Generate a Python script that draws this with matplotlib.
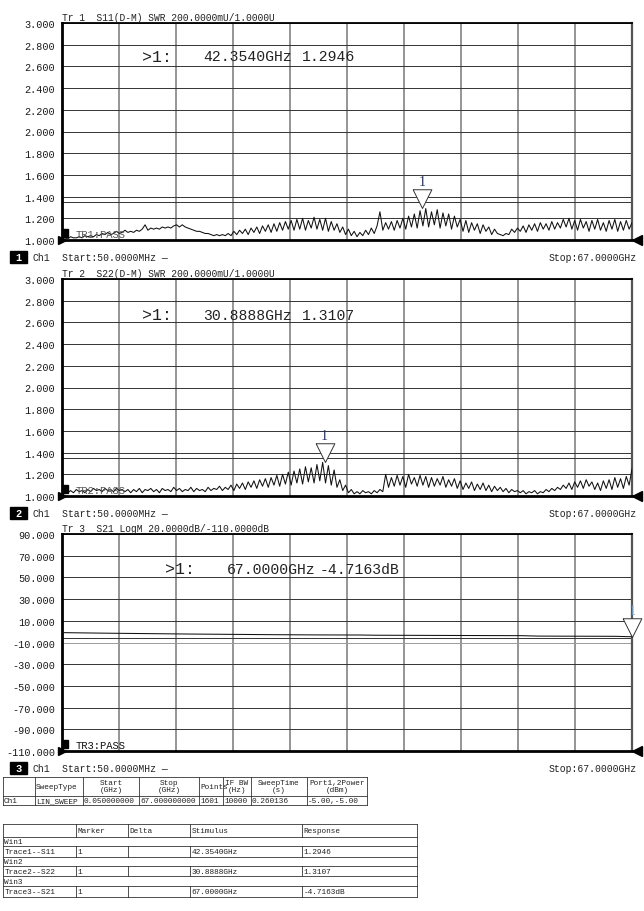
import matplotlib
matplotlib.use('Agg')
import matplotlib.pyplot as plt
import numpy as np
from matplotlib.path import Path

W, H = 644, 912
MONO = 'Liberation Mono'

# sweep settings
start_ghz, stop_ghz = 0.05, 67.0

s11 = [1.01, 1.02, 1.01, 1.03, 1.02, 1.02, 1.03, 1.02, 1.04, 1.03, 1.04, 1.03, 1.05,
       1.04, 1.06, 1.05, 1.07, 1.05, 1.06, 1.08, 1.06, 1.07, 1.09, 1.07, 1.08, 1.07, 1.09, 1.08, 1.10,
       1.14,
       1.09, 1.11, 1.10, 1.11, 1.10, 1.12, 1.11, 1.12, 1.11,
       1.13, 1.14, 1.12, 1.14, 1.12, 1.11,
       1.10, 1.09, 1.08, 1.08, 1.07, 1.06, 1.06,
       1.05, 1.04, 1.05, 1.04, 1.05, 1.04, 1.06,
       1.04, 1.08, 1.05, 1.09, 1.06, 1.10, 1.05, 1.11, 1.07, 1.12, 1.06, 1.13, 1.08, 1.14, 1.07,
       1.15, 1.08, 1.16, 1.09, 1.17, 1.10,
       1.18, 1.09, 1.19, 1.10, 1.20, 1.09, 1.18, 1.11, 1.21, 1.10, 1.19, 1.09, 1.20, 1.08, 1.17,
       1.09, 1.15,
       1.07, 1.12, 1.05, 1.10, 1.04, 1.08, 1.03, 1.07, 1.04, 1.09, 1.05,
       1.11, 1.06, 1.13, 1.26,
       1.09, 1.16, 1.10, 1.17, 1.09, 1.18, 1.11,
       1.20, 1.10, 1.22, 1.12, 1.24, 1.11, 1.27, 1.13, 1.29, 1.12, 1.26, 1.14, 1.28, 1.11, 1.25,
       1.13, 1.24, 1.10, 1.22, 1.12,
       1.19, 1.08, 1.18, 1.07, 1.16, 1.09, 1.15, 1.06, 1.14, 1.08, 1.12, 1.05, 1.10, 1.06,
       1.05, 1.04, 1.06,
       1.05, 1.10, 1.07, 1.11, 1.08, 1.13, 1.07, 1.14, 1.09, 1.15, 1.08, 1.16, 1.10, 1.15, 1.09,
       1.17, 1.10, 1.16,
       1.11, 1.19, 1.12, 1.20, 1.10,
       1.18, 1.09, 1.19, 1.11, 1.17, 1.08, 1.18, 1.10, 1.19, 1.09, 1.16, 1.08, 1.18, 1.10, 1.19,
       1.08, 1.17, 1.09, 1.18, 1.10, 1.16]

s22 = [1.02, 1.04, 1.03, 1.05, 1.03, 1.06, 1.04, 1.05, 1.03, 1.06, 1.04, 1.07, 1.05, 1.06,
       1.04, 1.07, 1.05, 1.06, 1.04, 1.07, 1.05, 1.06, 1.04, 1.06,
       1.03, 1.06, 1.04, 1.07, 1.03, 1.06, 1.05, 1.07, 1.04, 1.06, 1.03, 1.07, 1.05, 1.06, 1.04,
       1.08, 1.05, 1.07, 1.04, 1.06, 1.05, 1.08, 1.04, 1.07, 1.05, 1.06, 1.04, 1.08, 1.05, 1.07,
       1.06, 1.09, 1.05, 1.08,
       1.06, 1.10, 1.05, 1.11, 1.07, 1.12, 1.06, 1.13, 1.08, 1.14, 1.07, 1.15, 1.09, 1.16, 1.08,
       1.17, 1.10, 1.19, 1.09, 1.20, 1.11, 1.22,
       1.10, 1.23, 1.12, 1.25, 1.11, 1.27, 1.13, 1.26, 1.12, 1.29, 1.14, 1.31, 1.12, 1.28, 1.10,
       1.24, 1.08,
       1.15, 1.05, 1.10, 1.03, 1.06, 1.02,
       1.04, 1.02, 1.05, 1.03, 1.04, 1.02, 1.05, 1.03, 1.06, 1.04,
       1.20, 1.08,
       1.17, 1.09, 1.19, 1.10, 1.18, 1.08, 1.20, 1.11, 1.17, 1.09, 1.19, 1.10, 1.18, 1.08, 1.17,
       1.09, 1.16, 1.10, 1.18, 1.08, 1.15, 1.09, 1.16, 1.07,
       1.14, 1.06, 1.12, 1.07, 1.13, 1.05, 1.11, 1.06, 1.12, 1.05, 1.10, 1.04, 1.09, 1.05, 1.08,
       1.04, 1.07, 1.03, 1.06, 1.04, 1.05,
       1.03, 1.05, 1.02, 1.04, 1.03, 1.05, 1.02, 1.04, 1.03, 1.06, 1.04, 1.07, 1.05, 1.08,
       1.06, 1.10, 1.07, 1.12, 1.06, 1.13, 1.08, 1.14, 1.07, 1.15, 1.09, 1.13, 1.06,
       1.12, 1.05, 1.14, 1.07, 1.15, 1.06, 1.17, 1.08, 1.16, 1.07, 1.18, 1.10, 1.25]

s21_freq = [0.05, 5, 10, 15, 20, 25, 30, 35, 37, 45, 54, 56, 65, 67]
s21 = [-0.9, -1.4, -1.8, -2.2, -2.5, -2.8, -3.0, -3.1, -3.3, -3.5, -3.7, -4.1, -4.3, -4.7]

titles = ['Tr 1  S11(D-M) SWR 200.0000mU/1.0000U',
          'Tr 2  S22(D-M) SWR 200.0000mU/1.0000U',
          'Tr 3  S21 LogM 20.0000dB/-110.0000dB']
y_ranges = [(1.0, 3.0), (1.0, 3.0), (-110.0, 90.0)]
limit_vals = [[1.35], [1.35], [-5.5]]
pass_labels = ['TR1:PASS', 'TR2:PASS', 'TR3:PASS']
mk_freq = [42.3540, 30.8888, 67.0000]
mk_resp = [1.2946, 1.3107, -4.7163]
mk_freq_txt = ['42.3540GHz', '30.8888GHz', '67.0000GHz']
mk_resp_txt = ['1.2946', '1.3107', '-4.7163dB']

t1_cols = ['', 'SweepType', 'Start\n(GHz)', 'Stop\n(GHz)', 'Points', 'IF BW\n(Hz)',
           'SweepTime\n(s)', 'Port1,2Power\n(dBm)']
t1_row = ['Ch1', 'LIN_SWEEP', '0.050000000', '67.000000000', '1601', '10000', '0.260136',
          '-5.00,-5.00']
t2_cols = ['', 'Marker', 'Delta', 'Stimulus', 'Response']
t2_rows = [['Win1'],
           ['Trace1--S11', '1', '', '42.3540GHz', '1.2946'],
           ['Win2'],
           ['Trace2--S22', '1', '', '30.8888GHz', '1.3107'],
           ['Win3'],
           ['Trace3--S21', '1', '', '67.0000GHz', '-4.7163dB']]


def box(x0, y0, x1, y1):
    return [x0 / W, 1 - y1 / H, (x1 - x0) / W, (y1 - y0) / H]


fig = plt.figure(figsize=(W / 100, H / 100), dpi=100, facecolor='white')

# overlay in pixel coordinates for the instrument annotations and tables
ov = fig.add_axes([0, 0, 1, 1], zorder=5)
ov.set_xlim(0, W)
ov.set_ylim(H, 0)
ov.axis('off')
ov.patch.set_alpha(0)

panel_tops = [24, 280, 535]
ax_left, ax_right, ax_h = 62, 632, 217
traces = [(np.linspace(start_ghz, stop_ghz, len(s11)), s11),
          (np.linspace(start_ghz, stop_ghz, len(s22)), s22),
          (s21_freq, s21)]
mk_tri = Path([(-0.5, 1.0), (0.5, 1.0), (0.0, 0.0), (-0.5, 1.0)])

for i in range(3):
    top = panel_tops[i]
    ax = fig.add_axes(box(ax_left, top, ax_right, top + ax_h))
    lo, hi = y_ranges[i]
    ax.set_xlim(start_ghz, stop_ghz)
    ax.set_ylim(lo, hi)
    yt = np.linspace(lo, hi, 11)
    ax.set_yticks(yt)
    ax.set_yticklabels(['%.3f' % v for v in yt], family=MONO, fontsize=7.3, color='#1a1a1a')
    ax.set_xticks(np.linspace(start_ghz, stop_ghz, 11))
    ax.tick_params(length=0, pad=5, labelbottom=False)
    ax.grid(axis='x', color='#8c8c8c', lw=1.3)
    ax.grid(axis='y', color='#333333', lw=0.7)
    ax.set_axisbelow(True)
    for s, lw, c in [('left', 2.0, 'black'), ('bottom', 2.0, 'black'),
                     ('top', 1.3, 'black'), ('right', 1.6, '#555555')]:
        ax.spines[s].set_linewidth(lw)
        ax.spines[s].set_color(c)
    if i == 2:
        ax.yaxis.get_gridlines()[5].set_color('#9a9a9a')
    for lv in limit_vals[i]:
        ax.axhline(lv, color='#333333', lw=0.7)

    fx, fy = traces[i]
    ax.plot(fx, fy, color='#111111', lw=0.75, zorder=3)

    # marker triangle with tip on the marker value
    ax.plot([mk_freq[i]], [mk_resp[i]], marker=mk_tri, ms=27, mfc='white',
            mec='#333333', mew=0.7, clip_on=False, zorder=6)
    ytip = top + (hi - mk_resp[i]) / (hi - lo) * ax_h
    xtip = ax_left + (mk_freq[i] - start_ghz) / (stop_ghz - start_ghz) * (ax_right - ax_left)
    ov.text(xtip, ytip - 20, '1', family='Liberation Serif', fontsize=10,
            color='#1d2f6b' if i < 2 else '#6a9ac4', ha='center', va='bottom')

    # end-of-scale pointers
    ax.plot([0], [0], marker='>', ms=6, color='black', transform=ax.transAxes,
            clip_on=False, zorder=7)
    ax.plot([1.008], [0], marker='<', ms=7, color='black', transform=ax.transAxes,
            clip_on=False, zorder=7)

    # PASS flag
    bot = top + ax_h
    ov.add_patch(plt.Rectangle((62, bot - 11), 6, 8, color='black'))
    ov.text(76, bot - 6, pass_labels[i], family=MONO, fontsize=7.6,
            color='#555555' if i < 2 else '#111111', va='center')

    # title above window
    ov.text(62, top - 1, titles[i], family=MONO, fontsize=6.9, color='#222222', va='bottom')

    # marker readout
    my = top + [33, 36, 35][i]
    mx = [(142, 203, 302), (142, 203, 302), (165, 227, 320)][i]
    ov.text(mx[0], my, '>1:', family=MONO, fontsize=12, color='#222222', va='center')
    ov.text(mx[1], my, mk_freq_txt[i], family=MONO, fontsize=10.6, color='#222222',
            va='center')
    ov.text(mx[2], my, mk_resp_txt[i], family=MONO, fontsize=10.6, color='#222222',
            va='center')

    # channel status line
    cy = bot + 17
    ov.add_patch(plt.Rectangle((10, cy - 6), 17, 12, color='black'))
    ov.text(18.5, cy, str(i + 1), family=MONO, fontsize=7.5, color='white',
            ha='center', va='center', fontweight='bold')
    ov.text(33, cy, 'Ch1', family=MONO, fontsize=7, color='#222222', va='center')
    ov.text(62, cy, 'Start:50.0000MHz \u2014', family=MONO, fontsize=7, color='#222222',
            va='center')
    ov.text(637, cy, 'Stop:67.0000GHz', family=MONO, fontsize=7, color='#222222',
            va='center', ha='right')

# table 1: channel setup
t1_x = [3, 35, 83, 139, 199, 223, 251, 307, 367]
t1_y = [778, 797, 806]
for y in t1_y:
    ov.plot([t1_x[0], t1_x[-1]], [y, y], color='#333333', lw=0.6)
for x in t1_x:
    ov.plot([x, x], [t1_y[0], t1_y[-1]], color='#333333', lw=0.6)
for j, (h, d) in enumerate(zip(t1_cols, t1_row)):
    centered = j in (2, 3, 5, 6, 7)
    hx = (t1_x[j] + t1_x[j + 1]) / 2 if centered else t1_x[j] + 1
    ov.text(hx, (t1_y[0] + t1_y[1]) / 2, h, family=MONO, fontsize=5.6, color='#222222',
            ha='center' if centered else 'left', va='center', linespacing=1.0)
    ov.text(t1_x[j] + 1, (t1_y[1] + t1_y[2]) / 2, d, family=MONO, fontsize=5.6,
            color='#222222', va='center')

# table 2: marker list
t2_x = [3, 76, 128, 190, 302, 417]
t2_y = [825, 838, 847.5, 858, 867, 877.5, 887, 898]
for y in t2_y:
    ov.plot([t2_x[0], t2_x[-1]], [y, y], color='#333333', lw=0.6)
for x in (t2_x[0], t2_x[-1]):
    ov.plot([x, x], [t2_y[0], t2_y[-1]], color='#333333', lw=0.6)
rows = [t2_cols] + t2_rows
for r, cells in enumerate(rows):
    y0, y1 = t2_y[r], t2_y[r + 1]
    if len(cells) > 1:
        for x in t2_x[1:-1]:
            ov.plot([x, x], [y0, y1], color='#333333', lw=0.6)
    for j, c in enumerate(cells):
        ov.text(t2_x[j] + 1.5, (y0 + y1) / 2, c, family=MONO, fontsize=5.6, color='#222222',
                va='center')

plt.savefig('out.png', dpi=100, facecolor='white')
